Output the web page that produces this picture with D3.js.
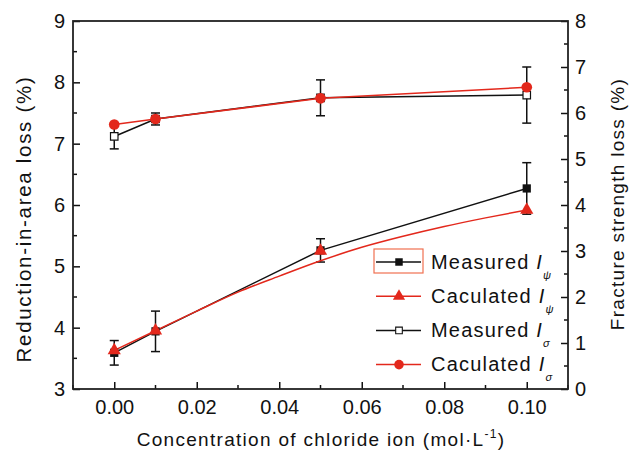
<!DOCTYPE html>
<html>
<head>
<meta charset="utf-8">
<script src="https://cdn.jsdelivr.net/npm/d3@7"></script>
<style>
  html, body { margin: 0; padding: 0; background: #fff; }
  svg { display: block; font-family: Arial, "Liberation Sans", sans-serif; }
</style>
</head>
<body>
<svg id="chart" width="629" height="455"></svg>
<script>
// Chloride concentration (mol·L⁻¹) at each test point
const conc = [0, 0.01, 0.05, 0.10];

// Reduction-in-area loss I_ψ (%), left axis
const measuredPsi = [3.59, 3.94, 5.26, 6.27];
const measuredPsiErr = [0.20, 0.33, 0.19, 0.42];
const calculatedPsi = [3.63, 3.95, 5.25, 5.92];

// Model curve for I_ψ
const psiCurveConc = [0, 0.01, 0.02, 0.03, 0.04, 0.05, 0.06, 0.07, 0.08, 0.09, 0.10];
const psiCurveValue = [3.63, 3.95, 4.27, 4.58, 4.84, 5.09, 5.31, 5.49, 5.65, 5.79, 5.92];

// Fracture strength loss I_σ (%), right axis
const measuredSigma = [5.49, 5.87, 6.33, 6.39];
const measuredSigmaErr = [0.27, 0.13, 0.39, 0.61];
const calculatedSigma = [5.75, 5.87, 6.32, 6.56];

// Axis ticks
const xTicks = [0, 0.02, 0.04, 0.06, 0.08, 0.10];
const xMinorTicks = [-0.01, 0.01, 0.03, 0.05, 0.07, 0.09, 0.11];
const leftTicks = [3, 4, 5, 6, 7, 8, 9];
const rightTicks = [0, 1, 2, 3, 4, 5, 6, 7, 8];

// Legend text
const legendLabels = ["Measured ", "Caculated ", "Measured ", "Caculated "];
const legendSubs = ["ψ", "ψ", "σ", "σ"];

const RED = "#e3281c";
const BLACK = "#111";
const TICK_FONT = 20;
const TITLE_FONT = 19;
const TITLE_SPACING = 1.3;

const svg = d3.select("#chart");
const plot = { left: 73, right: 568, top: 21, bottom: 389 };

const x = d3.scaleLinear().domain([-0.01, 0.11]).range([plot.left, plot.right]);
const yL = d3.scaleLinear().domain([3, 9]).range([plot.bottom, plot.top]);
const yR = d3.scaleLinear().domain([0, 8]).range([plot.bottom, plot.top]);

// ---- axes (ticks point inward) ----
const axisG = svg.append("g");

function styleAxis(g) {
  g.selectAll(".tick line").attr("stroke", BLACK).attr("stroke-width", 1.5);
  g.selectAll("text").attr("font-size", TICK_FONT).attr("fill", BLACK);
  g.select(".domain").remove();
}

const bottomAxis = d3.axisBottom(x).tickValues(xTicks).tickFormat(d3.format(".2f"))
  .tickSizeInner(-7).tickSizeOuter(0).tickPadding(11);
axisG.append("g").attr("transform", `translate(0,${plot.bottom})`).call(bottomAxis).call(styleAxis);
axisG.append("g").selectAll("line").data(xMinorTicks).join("line")
  .attr("x1", d => x(d)).attr("x2", d => x(d))
  .attr("y1", plot.bottom).attr("y2", plot.bottom - 4)
  .attr("stroke", BLACK).attr("stroke-width", 1.5);

const leftAxis = d3.axisLeft(yL).tickValues(leftTicks).tickFormat(d3.format("d"))
  .tickSizeInner(-7).tickSizeOuter(0).tickPadding(8);
axisG.append("g").attr("transform", `translate(${plot.left},0)`).call(leftAxis).call(styleAxis);
axisG.append("g").selectAll("line").data(d3.range(3.5, 9, 1)).join("line")
  .attr("x1", plot.left).attr("x2", plot.left + 4)
  .attr("y1", d => yL(d)).attr("y2", d => yL(d))
  .attr("stroke", BLACK).attr("stroke-width", 1.5);

const rightAxis = d3.axisRight(yR).tickValues(rightTicks).tickFormat(d3.format("d"))
  .tickSizeInner(-7).tickSizeOuter(0).tickPadding(7);
axisG.append("g").attr("transform", `translate(${plot.right},0)`).call(rightAxis).call(styleAxis);
axisG.append("g").selectAll("line").data(d3.range(0.5, 8, 1)).join("line")
  .attr("x1", plot.right).attr("x2", plot.right - 4)
  .attr("y1", d => yR(d)).attr("y2", d => yR(d))
  .attr("stroke", BLACK).attr("stroke-width", 1.5);

// frame
axisG.append("rect")
  .attr("x", plot.left).attr("y", plot.top)
  .attr("width", plot.right - plot.left).attr("height", plot.bottom - plot.top)
  .attr("fill", "none").attr("stroke", "#222").attr("stroke-width", 1.8);

// ---- axis titles ----
const xTitle = svg.append("text")
  .attr("x", 321).attr("y", 446).attr("text-anchor", "middle")
  .attr("font-size", TITLE_FONT).attr("letter-spacing", TITLE_SPACING).attr("fill", BLACK);
xTitle.append("tspan").text("Concentration of chloride ion (mol·L");
xTitle.append("tspan").attr("font-size", 12).attr("dy", -8).text("-1");
xTitle.append("tspan").attr("dy", 8).text(")");

svg.append("text")
  .attr("transform", "translate(31,219) rotate(-90)")
  .attr("text-anchor", "middle").attr("font-size", 20.5)
  .attr("letter-spacing", 1.7).attr("fill", BLACK)
  .text("Reduction-in-area loss (%)");

svg.append("text")
  .attr("transform", "translate(624,204) rotate(-90)")
  .attr("text-anchor", "middle").attr("font-size", TITLE_FONT)
  .attr("letter-spacing", TITLE_SPACING).attr("fill", BLACK)
  .text("Fracture strength loss (%)");

// ---- series ----
const pts = (xs, ys, scale) => xs.map((c, i) => [x(c), scale(ys[i])]);
const line = d3.line();
const smooth = d3.line().curve(d3.curveMonotoneX);
const data = svg.append("g");

// measured lines
data.append("path").attr("d", line(pts(conc, measuredPsi, yL)))
  .attr("fill", "none").attr("stroke", BLACK).attr("stroke-width", 1.5);
data.append("path").attr("d", line(pts(conc, measuredSigma, yR)))
  .attr("fill", "none").attr("stroke", BLACK).attr("stroke-width", 1.5);

// error bars
function errorBars(vals, errs, scale) {
  const g = data.append("g").attr("stroke", BLACK).attr("stroke-width", 1.5);
  conc.forEach((c, i) => {
    const cx = x(c), y1 = scale(vals[i] - errs[i]), y2 = scale(vals[i] + errs[i]);
    g.append("line").attr("x1", cx).attr("x2", cx).attr("y1", y1).attr("y2", y2);
    g.append("line").attr("x1", cx - 4.5).attr("x2", cx + 4.5).attr("y1", y1).attr("y2", y1);
    g.append("line").attr("x1", cx - 4.5).attr("x2", cx + 4.5).attr("y1", y2).attr("y2", y2);
  });
}
errorBars(measuredPsi, measuredPsiErr, yL);
errorBars(measuredSigma, measuredSigmaErr, yR);

// calculated lines
data.append("path").attr("d", smooth(pts(psiCurveConc, psiCurveValue, yL)))
  .attr("fill", "none").attr("stroke", RED).attr("stroke-width", 1.5);
data.append("path").attr("d", line(pts(conc, calculatedSigma, yR)))
  .attr("fill", "none").attr("stroke", RED).attr("stroke-width", 1.5);

// markers
const sqSym = d3.symbol().type(d3.symbolSquare).size(68);
const triSym = d3.symbol().type(d3.symbolTriangle).size(76);
const cirSym = d3.symbol().type(d3.symbolCircle).size(90);

function markers(vals, scale, sym, fill, stroke, sw) {
  data.append("g").selectAll("path").data(conc).join("path")
    .attr("transform", (c, i) => `translate(${x(c)},${scale(vals[i])})`)
    .attr("d", sym).attr("fill", fill).attr("stroke", stroke).attr("stroke-width", sw);
}
markers(measuredPsi, yL, sqSym, BLACK, "none", 0);
markers(measuredSigma, yR, d3.symbol().type(d3.symbolSquare).size(56), "#fff", BLACK, 1.2);
markers(calculatedPsi, yL, triSym, RED, "none", 0);
markers(calculatedSigma, yR, cirSym, RED, "none", 0);

// ---- legend ----
const legendStyles = [
  { color: BLACK, sym: d3.symbol().type(d3.symbolSquare).size(56), fill: BLACK, stroke: "none" },
  { color: RED, sym: d3.symbol().type(d3.symbolTriangle).size(64), fill: RED, stroke: "none" },
  { color: BLACK, sym: d3.symbol().type(d3.symbolSquare).size(44), fill: "#fff", stroke: BLACK },
  { color: RED, sym: d3.symbol().type(d3.symbolCircle).size(72), fill: RED, stroke: "none" }
];
const leg = svg.append("g");
leg.append("rect").attr("x", 374).attr("y", 249).attr("width", 49).attr("height", 24)
  .attr("fill", "none").attr("stroke", "#f07050").attr("stroke-width", 1.2);

legendLabels.forEach((label, i) => {
  const cy = 262 + i * 34.2;
  const st = legendStyles[i];
  leg.append("line").attr("x1", 376).attr("x2", 421).attr("y1", cy).attr("y2", cy)
    .attr("stroke", st.color).attr("stroke-width", 1.5);
  leg.append("path").attr("transform", `translate(399,${cy})`).attr("d", st.sym)
    .attr("fill", st.fill).attr("stroke", st.stroke).attr("stroke-width", 1.1);
  const t = leg.append("text").attr("x", 431).attr("y", cy + 6.5)
    .attr("font-size", 20).attr("letter-spacing", 1.2).attr("fill", BLACK);
  t.append("tspan").text(label);
  t.append("tspan").attr("font-style", "italic").text("I");
  t.append("tspan").attr("font-style", "italic").attr("font-size", 11).attr("dy", 10).text(legendSubs[i]);
});
</script>
</body>
</html>
